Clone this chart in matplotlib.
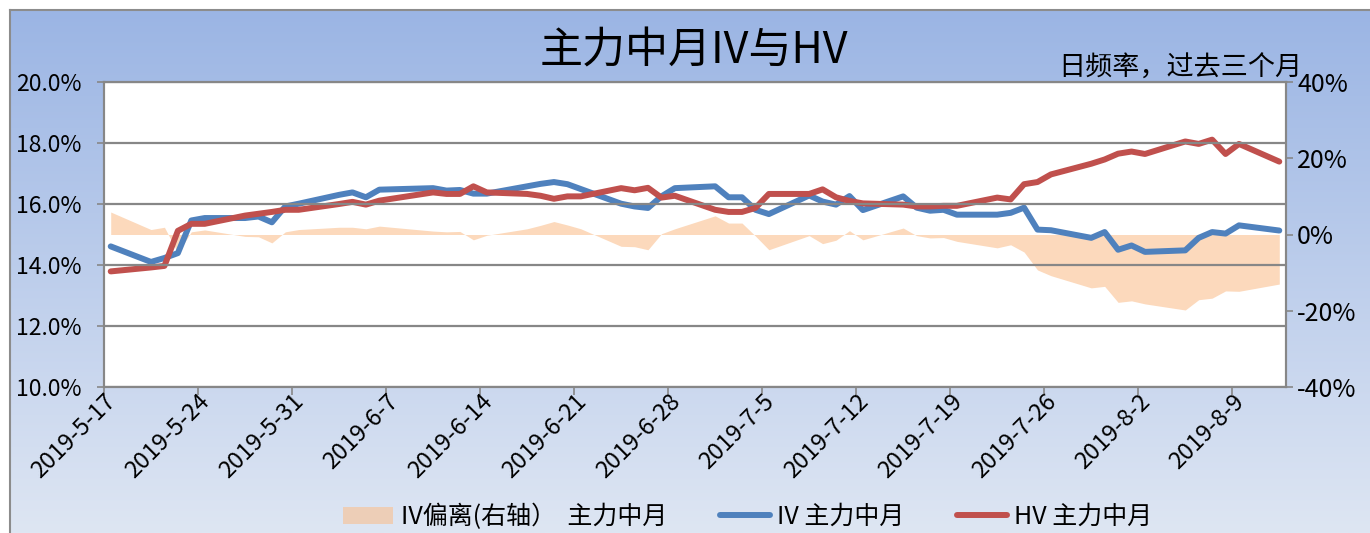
import datetime as dt
import numpy as np
import matplotlib
matplotlib.use("Agg")
import matplotlib.pyplot as plt
from matplotlib.patches import Patch
from matplotlib.lines import Line2D

plt.rcParams['font.family'] = ['Noto Sans CJK SC', 'DejaVu Sans']

# trading days (2019), IV / HV of the main mid-month contract in %, IV deviation in %
days = ["5-17", "5-20", "5-21", "5-22", "5-23", "5-24", "5-27", "5-28", "5-29", "5-30",
        "5-31", "6-3", "6-4", "6-5", "6-6", "6-10", "6-11", "6-12", "6-13", "6-14",
        "6-17", "6-18", "6-19", "6-20", "6-21", "6-24", "6-25", "6-26", "6-27", "6-28",
        "7-1", "7-2", "7-3", "7-4", "7-5", "7-8", "7-9", "7-10", "7-11", "7-12",
        "7-15", "7-16", "7-17", "7-18", "7-19", "7-22", "7-23", "7-24", "7-25", "7-26",
        "7-29", "7-30", "7-31", "8-1", "8-2", "8-5", "8-6", "8-7", "8-8", "8-9", "8-12"]
iv = [14.61, 14.10, 14.23, 14.39, 15.46, 15.54, 15.54, 15.59, 15.40, 15.92,
      16.01, 16.30, 16.38, 16.22, 16.47, 16.52, 16.44, 16.46, 16.34, 16.34,
      16.58, 16.66, 16.72, 16.65, 16.49, 16.01, 15.92, 15.87, 16.25, 16.52,
      16.58, 16.22, 16.22, 15.81, 15.67, 16.28, 16.08, 15.98, 16.26, 15.80,
      16.25, 15.88, 15.78, 15.81, 15.65, 15.65, 15.71, 15.88, 15.16, 15.14,
      14.89, 15.08, 14.50, 14.64, 14.43, 14.48, 14.89, 15.08, 15.03, 15.30, 15.13]
hv = [13.79, 13.92, 13.97, 15.12, 15.35, 15.35, 15.62, 15.68, 15.74, 15.81,
      15.81, 16.00, 16.07, 15.98, 16.11, 16.38, 16.33, 16.33, 16.58, 16.38,
      16.33, 16.27, 16.17, 16.25, 16.25, 16.52, 16.45, 16.53, 16.21, 16.27,
      15.81, 15.74, 15.74, 15.87, 16.33, 16.33, 16.48, 16.22, 16.10, 16.02,
      15.98, 15.92, 15.92, 15.94, 15.94, 16.21, 16.15, 16.65, 16.72, 16.97,
      17.32, 17.46, 17.65, 17.72, 17.64, 18.05, 17.97, 18.11, 17.64, 17.97, 17.39]
iv_dev = [5.9, 1.3, 1.9, -4.8, 0.7, 1.2, -0.5, -0.6, -2.2, 0.7,
          1.3, 1.9, 1.9, 1.5, 2.2, 0.9, 0.7, 0.8, -1.4, -0.2,
          1.5, 2.4, 3.4, 2.5, 1.5, -3.1, -3.2, -4.0, 0.2, 1.5,
          4.9, 3.0, 3.0, -0.4, -4.0, -0.3, -2.4, -1.5, 1.0, -1.4,
          1.7, -0.3, -0.9, -0.8, -1.8, -3.5, -2.7, -4.6, -9.3, -10.8,
          -14.0, -13.6, -17.8, -17.4, -18.2, -19.8, -17.1, -16.7, -14.8, -14.9, -13.0]

left_ticks = [10, 12, 14, 16, 18, 20]
right_ticks = [-40, -20, 0, 20, 40]

blue = '#4F81BD'
red = '#C0504D'
peach = '#FAC090'
gray = '#878787'

x = [dt.datetime(2019, int(d.split('-')[0]), int(d.split('-')[1]), 12) for d in days]
start = dt.datetime(2019, 5, 17)
xticks = [start + dt.timedelta(days=7 * k) for k in range(13)]
xlabels = [f"{t.year}-{t.month}-{t.day}" for t in xticks]
# labels sit a little right of the tick marks, like the date slots in the source chart
label_pos = [t + dt.timedelta(hours=15) for t in xticks]

W, H = 1370, 533
fig = plt.figure(figsize=(W / 100, H / 100), dpi=100)

# gradient chart background
bg = fig.add_axes([10 / W, 0, 1, 1 - 10 / H], zorder=-10)
top_c = np.array([155, 181, 228]) / 255
bot_c = np.array([222, 230, 243]) / 255
g = np.linspace(0, 1, 256)[:, None, None]
bg.imshow(top_c + (bot_c - top_c) * g, aspect='auto', extent=[0, 1, 0, 1])
bg.set_xlim(0, 1)
bg.set_ylim(0, 1)
bg.set_xticks([])
bg.set_yticks([])
for s in ['right', 'bottom']:
    bg.spines[s].set_visible(False)
for s in ['left', 'top']:
    bg.spines[s].set_color('#8c8c8c')
    bg.spines[s].set_linewidth(1.5)

L, R, T, B = 104, 1286, 82, 387
ax = fig.add_axes([L / W, 1 - B / H, (R - L) / W, (B - T) / H])
ax2 = ax.twinx()
ax.set_zorder(ax2.get_zorder() + 1)
ax.patch.set_visible(False)
ax2.patch.set_visible(True)
ax2.patch.set_facecolor('white')

ax2.fill_between(x, 0, iv_dev, color=peach, alpha=0.6, lw=0)
ax.plot(x, iv, color=blue, lw=4.3, solid_capstyle='round', solid_joinstyle='round')
ax.plot(x, hv, color=red, lw=4.3, solid_capstyle='round', solid_joinstyle='round')

ax.set_xlim(start, dt.datetime(2019, 8, 13))
ax.set_ylim(10, 20)
ax2.set_ylim(-40, 40)
ax.set_yticks(left_ticks)
ax.set_yticklabels([f"{v:.1f}%" for v in left_ticks])
ax2.set_yticks(right_ticks)
ax2.set_yticklabels([f"{v}%" for v in right_ticks])
ax.yaxis.grid(True, color=gray, lw=1.6)
ax.set_axisbelow(False)

ax.set_xticks(xticks)
ax.set_xticklabels([])
ax.set_xticks(label_pos, minor=True)
ax.set_xticklabels(xlabels, minor=True, rotation=45, ha='right', va='center',
                   rotation_mode='anchor')

for a in (ax, ax2):
    for s in a.spines.values():
        s.set_color(gray)
        s.set_linewidth(1.5)
ax.tick_params(axis='y', direction='out', length=5, width=1.2, color=gray, pad=11, labelsize=16.5)
ax.tick_params(axis='x', which='major', direction='out', length=6, width=1.2, color=gray)
ax.tick_params(axis='x', which='minor', length=0, pad=8, labelsize=17)
ax2.tick_params(axis='y', direction='out', length=5, width=1.2, color=gray, pad=3, labelsize=18)

fig.text(694 / W, 1 - 52 / H, '主力中月IV与HV', ha='center', va='center', fontsize=31)
fig.text(1302 / W, 1 - 68 / H, '日频率，过去三个月', ha='right', va='center', fontsize=19.5)

handles = [Patch(facecolor=peach, alpha=0.6, lw=0),
           Line2D([], [], color=blue, lw=4.3, solid_capstyle='round'),
           Line2D([], [], color=red, lw=4.3, solid_capstyle='round')]
labels = ['IV偏离(右轴）  主力中月', 'IV 主力中月', 'HV 主力中月']
fig.legend(handles, labels, loc='center', bbox_to_anchor=(748 / W, 1 - 517 / H), ncol=3,
           frameon=False, fontsize=18, handlelength=2.0, handletextpad=0.3, columnspacing=2.1)

fig.savefig('out.png', dpi=100)
